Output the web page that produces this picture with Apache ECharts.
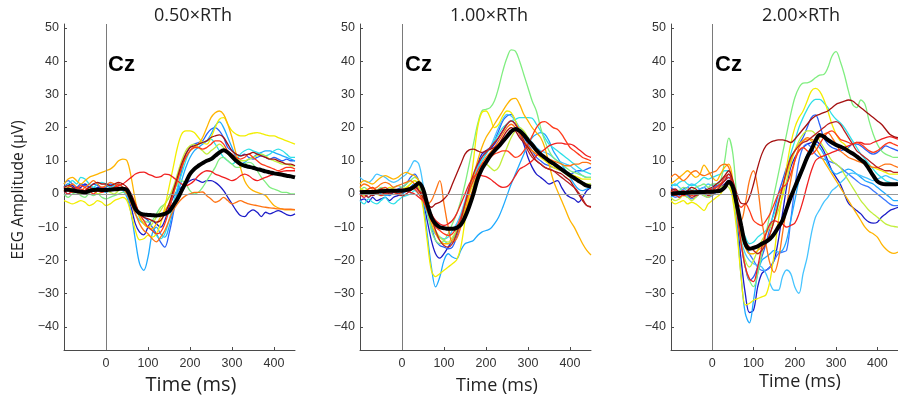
<!DOCTYPE html>
<html>
<head>
<meta charset="utf-8">
<script src="https://cdn.jsdelivr.net/npm/echarts@6/dist/echarts.min.js"></script>
<style>html,body{margin:0;padding:0;background:#fff;}#c{width:898px;height:397px;}</style>
</head>
<body>
<div id="c"></div>
<script>
// ---------- DATA ----------
const time = [-100,-90,-80,-70,-60,-50,-40,-30,-20,-10,0,10,20,30,40,50,60,70,80,90,100,110,120,130,140,150,160,170,180,190,200,210,220,230,240,250,260,270,280,290,300,310,320,330,340,350,360,370,380,390,400,410,420,430,440,450];
const xTicks = [0,100,200,300,400];
const yTicks = [-40,-30,-20,-10,0,10,20,30,40,50];
const panelTitles = ['0.50×RTh','1.00×RTh','2.00×RTh'];
const channel = 'Cz';
const xName = 'Time (ms)';
const yName = 'EEG Amplitude (µV)';

// Panel 1 (0.50×RTh)
const p1Mean = [1.2,1.3,1.1,0.8,0.7,0.5,0.9,1.2,1.3,1.2,1.2,1.3,1.4,1.5,1.6, 1.2,-1.5,-4.5,-5.8,-6.2,-6.3,-6.4,-6.5,-6.3,-6,-5.3,-3.5,-1.5,1,3.5, 6,7.5,8.5,9.3,10,10.5,11.5,12.5,13.2,12.5,11.3,10,9,8.5,8.2, 7.9,7.5,7.2,6.8,6.5,6.2,6,5.8,5.5,5.3,5.0];
const p1DarkBlue = [2,3,2.5,1.5,2,3,2,1,2,1.5,1,2,2.5,2,1.5, 0,-4,-9,-11.5,-12.3,-10,-8,-9,-10,-8,-4,-1,1,2,3, 4,4.5,4,3.5,4,4,3.5,2.5,1,-1,-3,-5,-6.5,-6.8,-5.5, -4.8,-5.5,-6.8,-5.5,-6,-5.5,-5,-5.5,-6.2,-6.5,-6];
const p1Blue = [3,4,3,2,3,2.5,2,3,2.5,2,2,3,2.5,1.5,2, 1,-2,-4,-6,-7,-8,-10,-12,-14.5,-16,-12,-6,1,7,12, 14,15,15.5,16,18,19.5,20,19,17,14,13,12,11.5,12,11, 10.5,11,11.5,11,10.5,11,10.5,10,10.5,10,10];
const p1Sky = [1,0,1,2,1,0.5,1,2,1.5,1,0.5,1,2,1.5,1, -1,-6,-14,-21,-23,-19,-12,-10,-12,-13,-10,-5,0,4,8, 11,13,14,15,16,18,20.5,21.7,20,17,14,11,9,9.5,10.5, 11,12,12.5,13,13,12.5,12,11.5,11,10.5,10];
const p1Cyan = [2,3,4,3,5,4.5,3,2,3,3.5,3,2,2.5,3,2, 0,-3,-6,-8,-9,-10,-11,-12.5,-13.5,-12,-8,-3,2,6,10, 13,14,15,15.5,16,16.5,15,13,11,10,9,10,12,13,13.5, 13,12.5,12,11.5,12,13,13.5,13,12,11,11];
const p1LightGreen = [0,-1,0,0.5,-0.5,-1,0,-0.5,0,-1,-1.5,-1,-0.5,0,0.5, 0,-2,-4,-6,-8,-8.5,-8,-6,-4,-3,-1,1,3,4,3, 1,0,0.5,2,4,6,8,10.5,11,10,9,8,8,9,9.5, 9,7,5,3.5,2,1.5,1,0.5,0.5,0,0];
const p1YellowGreen = [1,2,1.5,1,0,1,1.5,1,0,0.5,1,0.5,0,1,1.5, 1,-1,-4,-7,-9,-10,-9,-7,-5,-3,-1,2,6,10,13, 14.5,15,14,13,12,13,14,15,14,12,11,10.5,10,10,10.5, 11,11.5,12,11.5,10.5,10,9.5,9,9,8.5,8.5];
const p1Yellow = [-2,-2.5,-3,-2.5,-2,-2.5,-3.5,-3,-2,-2.5,-3.5,-3,-2,-1.5,-1, -2,-6,-11,-13.8,-13.5,-12.5,-13,-12,-9,-4,2,8,14,18,19, 19,18.5,17,15.5,15,17,20,22.5,23,21,19,18,17.5,17.5,18, 18.3,18.5,18.2,17.8,17.5,17.5,17,16.5,16,15.5,15];
const p1Amber = [3,4.5,5,4,3,4,5,5.5,6,6.5,7,7.5,8.5,10,10.5, 10,5,-2,-7,-9,-10,-10.5,-9,-7,-5,-3,0,4,8,11, 13,14,15,17,20,23,24.5,25,24,21,17,12,8,4,2, 1,0.5,0,-0.5,-2,-3.5,-4.2,-4.6,-4.8,-4.8,-4.8];
const p1Orange = [1,2,3,2,1,2,3,4,3,2,2.5,3.5,3,2,1.5, 0,-3,-6,-9,-11,-12,-13.5,-14.4,-13,-11,-8,-5,-3,-1.5,-0.5, 0,0.5,0.5,0.6,-0.5,-1.5,-2.5,-2,-1,-2,-3,-2.5,-2,-2.5,-3, -3.3,-3.5,-3.8,-4,-4.2,-4.3,-4.5,-4.5,-4.6,-4.6,-4.7];
const p1Red = [1,0,1,2,1.5,1,2,1.5,1,0.5,1,1.5,2,2.5,3, 4,5,6,6.5,6.6,6,5.5,5,5.2,6,5.8,5,4,3,2.5, 3,4,5.5,6.5,7,6.8,6,5.5,5,4.5,4,4.5,5.5,6,5.5, 4.5,4,4.5,5,5.5,6,6.5,6.8,7,7,7];
const p1Red2 = [2,1,0.5,1.5,2.5,2,1,0,1,2,1.5,1,2,3,2, 1,-1,-3,-6,-8,-10,-11,-12,-11.5,-9,-5,0,4,8,11, 13,14,14,13.5,14,15,16,16,15,13,12,11,10.5,11,12, 11,10,9,8.5,8,7.5,7,7.5,8,8,7.5];
const p1DarkRed = [2,2.5,2,1,0.5,1,2,3,3.5,3,3,2.5,3,3.5,3, 2,0,-3,-6,-7,-7.5,-8,-8.5,-8,-6,-3,1,5,9,12, 14,14.5,15,15.5,16,17,17.5,17.8,17,15,13,12,11.5,11.8,12, 12.5,12,11.5,11,10.5,10.5,10,9.5,9,9,8.5];

// Panel 2 (1.00×RTh)
const p2Mean = [0.5,0.6,0.6,0.6,0.7,0.8,0.9,1,1,1,1,1.2,1.5,2.3,3.3, 1.5,-3,-7,-9,-10,-10.3,-10.5,-10.5,-10.2,-9.3,-7,-3.8,0,4.5,7.5, 9.5,11.5,13,14.3,15.8,17.3,18.8,19.6,19,17.8,16.2,14.8,13.2,12,11, 10,9.2,8.3,7.4,6.5,5.6,4.8,4,3.2,2.5,2.2];
const p2DarkBlue = [-2,-1.5,-2.5,-1,-2,-1.5,-1,-2,-1,-0.5,0,1,2,3,2, -2,-8,-14,-18,-19.3,-18,-16,-14,-11,-7,-3,1,5,9,12, 13,13.5,15,17,19,21,22,21,18,15,11,8,6,5,4, 3,3.5,4,2,0,-1,-1.5,-2.5,-1,1,2];
const p2Blue = [0,1,0.5,-0.5,0.5,1,0,-0.5,0.5,1.5,2,3,5,6,4, 0,-5,-10,-14,-15.5,-16,-16.5,-16,-13,-9,-4,1,5,8,11, 13,14,16,19,22,23.5,24,22,19,17,15,13,11,10,9, 8.5,8,7.5,7,6.5,6,6.5,7,7,7.5,8];
const p2Sky = [1,0,-1,0,1,0,-0.5,0,1,0.5,0,1,2,3,2, -3,-12,-22,-28,-25,-20,-18,-19,-19.5,-17,-15,-14.5,-14,-12.5,-11.5, -11,-10.5,-9,-7,-4,-0.5,3,6,9,12,15,17,18,18.5,18, 16,13,11,9,7,5,3,1.5,1,1.5,2];
const p2LightSky = [5,4,3.5,4.5,6,5.5,5,4,3.5,4,5,6,8,10,9, 3,-4,-10,-12,-13,-13.5,-13,-11,-9,-6,-2,2,5,8,10, 12,14,17,20,22.5,24,23.5,22,20,18.5,17,15.5,14,13,12.5, 12,11,10,9.5,9,8.5,7.5,6.5,5.5,5,5];
const p2Cyan = [-2,-3,-1.5,-2.5,-3,-2,-1,-2.5,-3,-2,-1,-0.5,0,1,0, -2,-6,-10,-12,-13,-14,-15,-14,-11,-7,-3,1,4,7,10, 12,14,16,18,20,21,22,22.5,23,23,23,22.8,21,19,17, 15,14,13,12,11,10,9,8,7,6.5,6];
const p2LightGreen = [1,2,1,0.5,1,2,1.5,1,2,2.5,2,3,4,5,4, 0,-5,-11,-14,-15,-14,-12,-9,-6,-2,3,9,15,21,25, 25.5,26,28,32,37,41,43.4,43,40,36,32,28,25,20,16, 13,11,10,9,8,7,6.5,6,5.5,5,5];
const p2YellowGreen = [0,-0.5,0.5,1,0,-0.5,0,1,0.5,0,0.5,1.5,3,4,3, 0,-4,-8,-11,-13,-14,-14.5,-13,-11,-8,-4,0,3,6,8, 9,8,7,8,11,14,17,19,20,19,17,15,13,12,11, 10,9,8,7,6,5,4.5,4,3.5,3,3];
const p2Yellow = [2,1,1.5,2,1,0.5,1,2,1.5,1,1.5,2,3,4,2, -4,-14,-23,-24.9,-24,-23,-22,-21,-19.9,-16,-8,0,10,20,24.5, 25,23,20,21,23.5,25,24.5,22,19,16,14,13,12,11,10, 9,8,7.5,7,6.5,6,5.5,5,4.5,4.5,4.5];
const p2Amber = [3,4,3.5,3,4,5,5.5,5,4.5,5,6,6.5,6,5.5,4, 1,-4,-9,-12,-14,-15,-15,-14,-12,-9,-5,0,5,10,14, 17,19,21,23,25,27,28.5,28.8,27,24,22,20,18.5,17,14, 9,4.2,1,-2,-5,-8,-10,-12.5,-15,-17,-18.4];
const p2Orange = [2,3,2.5,1.5,2,3,3.5,3,2,2.5,3,3.5,4,3,1, -1,-3,-2,1,4,-3,-10,-14.5,-13.5,-10,-6,-2,2,6,9, 11,12.5,14,16,18,20,21,20,18,16,14.5,13,12,11.5,11, 10.5,10,9.5,9,8.5,8.5,9,9,9.5,9.5,9];
const p2Red = [0,-1,0,1,0.5,-0.5,0,1,0.5,0,0.5,1,0.5,0,-1, -2,-4,-6,-8,-9,-9.5,-9,-8,-6,-3,0,3,5,6,5.5, 5.2,4.5,3.5,2.5,2,2.2,3.5,5.5,7.5,8.2,9,10,11.5,12.5,13.5, 14.5,15,15.3,15.3,15,15,14.5,13.5,12.5,11.5,11];
const p2Red2 = [1,0.5,1.5,2,1,1.5,2,1,0.5,1,1.5,1,2,1.5,0, -2,-5,-8,-10,-11,-12,-12.5,-12,-10,-7,-3,1,4,7,9, 10,11,12,12.5,13,13,12,11,11.5,13,15,17.5,20,21.5,21.8, 21,20,19.5,18,16,14,13,12,11,10.5,10];
const p2DarkRed = [0.5,1,0,-0.5,0.5,1.5,1,0,0.5,1,1,1.5,2,2.5,1, -1,-3,-4,-3,-2.5,-1.5,0,3,6,9,12,13.3,13.5,13,12.5, 13,13.5,14,15,17,19,20,19,17,15.5,14,12,10,9,8, 7.5,7,6.5,6,5,4,2,0,-2,-3.5,-3.8];
const p2DarkRed2 = [1,0,-1,0,1,0.5,0,0.5,1,0,-0.5,0,1,2,1, 0,-3,-7,-11,-14,-15.5,-16,-15,-12,-8,-3,2,6,9,11, 12.5,14,15.5,17,19,21,22,21,19,16,13,11,10,9,8, 7.5,7,6,5,4,3,2,0.5,-1.5,-3.5,-4];

// Panel 3 (2.00×RTh)
const p3Mean = [0,0.2,0.3,0.3,0.4,0.5,0.5,0.6,0.6,0.7,0.7,0.8,1,2,3.7, 2,-3.5,-9.5,-15,-16.5,-16.2,-15.8,-15,-14.4,-13.5,-12,-10,-8,-4.5,-1, 2,5,8,11,13.3,16,17.8,17.3,16.3,15.5,14.8,14.3,13.7,12.9,12.2, 11.3,10.3,9.3,7.5,5.5,3.8,3.1,2.9,2.9,2.9,3];
const p3DarkBlue = [1,0,-1,0,1,0.5,-0.5,0,1,0.5,0,1,2,3,4, 0,-8,-20,-30,-35.7,-35,-28,-24,-23,-22,-20,-14,-6,2,8, 11,13,14,15,15.5,16,15,13,10,7,5,3,0,-2.8,-4, -5,-6,-7.5,-8.5,-8.8,-8.5,-7,-6,-5,-4.5,-4];
const p3Blue = [2,1,0.5,1.5,2,1,0.5,1.5,2,1,1.5,2.5,3,4,5, 2,-6,-15,-22,-26,-25,-22,-19,-15,-10,-5,0,4,8,11, 13,15,17,20,23,23.8,21,17,15,14,13.5,13,13.5,14,15, 15,14.5,13.5,12.5,12,12.5,13.5,14.5,14,13.5,13];
const p3Blue2 = [0,-1,-0.5,0.5,-0.5,-1.5,-1,0,-0.5,-1,-0.5,0.5,1,2,3, 1,-4,-10,-15,-18,-20,-22,-23,-23,-22,-20,-18,-17.5,-17,-8, 2,10,14,15,14,12,11,10.5,10,9.5,9,8,7,6,5, 4,3,2.5,2,1,0,-1,-2,-3,-3.5,-3.5];
const p3Sky = [-1,0,1,0,-1,0,1,0.5,-0.5,0,1,2,3,4,5, 0,-10,-25,-36,-38.8,-32,-24,-20,-19,-18,-17,-17.5,-17,-14,-8, -2,4,8,12,14,15,14,12,9,7,6,6.5,7,7.5,7, 6,5,4,3.5,3,2,1,0,-1,-2,-2];
const p3Sky2 = [2,3,2,1,2,3,2.5,1.5,2,3,2.5,3,4,5,6, 2,-6,-14,-18,-20,-21,-21.5,-22,-24,-27,-29,-29,-25,-22.9,-24, -28,-29.9,-24,-19,-12,-7,-4.8,-2.5,-1,1,2,3.3,4.5,6,6.3, 6,5.5,5,4.5,4,4.5,5,5.5,5,4.5,4];
const p3Cyan = [3,2.5,3.5,4,3,2.5,3,4,5,4.5,5,5.5,6,7,7, 3,-4,-10,-13,-15,-14.5,-13,-12,-11,-9,-6,-2,2,7,12, 16,20,23,25.5,27.5,28.5,28.5,27.5,26,24,22.5,21.5,20,18,16, 14,12,10.5,9,7.5,6,5,4,3.5,3,3];
const p3LightGreen = [1,0.5,1,2,1.5,1,2,2.5,3,2,3,3,4,10,16.8, 12,-2,-14,-22,-26,-27.9,-24,-18,-12,-6,0,6,12,18,24, 29,32,33.4,33.5,34,35,35.8,36,38,41.5,42.9,40,36,31,27, 26,28.3,27,22,18,15,13,12,11.5,11,11];
const p3YellowGreen = [-1,-2,-1.5,-0.5,-1,-2,-1,0,-0.5,-1,0,1,2,2.5,2, -1,-7,-15,-20,-22,-20,-17,-14,-12,-10,-8,-5,-1,4,9, 13,16,18,19,19,18,16,14,12,10,9,8,6,4,2, 0,-2,-3.5,-5,-6,-7,-8,-9,-9.5,-9.8,-10];
const p3Yellow = [-2,-3,-2.5,-2,-3,-2.5,-3,-4,-5,-3,-2,-1,0,2,3, -2,-12,-25,-33.4,-33,-32,-31.5,-31,-30.4,-26,-18,-8,0,8,15, 20,23,25,28,31,31.8,31,28.5,25,21,18,16,15,13.5,12, 11,10,9,8.5,8,7.5,7,6.5,6,6,6];
const p3Amber = [3,4,5,6,7,6,5,6,8.7,7,5,4,6,8,9, 4,-5,-12,-16,-18,-18,-17,-16,-15,-12,-8,-3,2,6,10, 13,15,16,16.5,16,14,12,10,8,6,4,2,0,-2,-4, -6,-8,-10,-11.3,-12,-13,-15,-16.5,-17.5,-17.9,-17.5];
const p3Orange = [5,6,5,4,5,6.5,7,6,5.5,6,6.5,7,8.5,9,8, 3,-5,-8,-3,4,7,2,-8,-15,-21,-23.6,-20,-12,-4,4, 10,14,16,17,16.5,16,17,18,18.5,17,15,13,12,11,10.5, 10,9.5,9,8.5,8,8,8.5,9,9,8.5,8];
const p3Red = [0,1,0.5,-0.5,0,1,0.5,0,0.5,1,1.5,2,3,4,5, 2,-6,-15,-22,-25.5,-26.4,-22,-16,-12,-9,-8,-8.5,-9,-10,-9.5, -8.8,-6,-2,2.7,7,10,11,11.5,12,12.5,13,13.5,14,14.5,15, 15.5,15.5,15,15,15.5,16,16.5,17,17.3,17,16.5];
const p3Red2 = [1,0,-1,0,0.5,-0.5,0,1,0.5,0,1,2,3,5,6, 3,-2,-4,-3,-5,-8,-9,-9.5,-8,-6,-3,0,2,3,6, 10,13,14,13,12,13,15,17,18.5,19,18,16.5,16,15.5,15, 15.5,15,14,13,12.5,13,14,15,15.5,15,14.5];
const p3DarkRed = [1,1.5,0.5,0,1,2,1.5,0.5,1,1.5,2,3,4,5.5,7, 4,0,-2.8,-3,-1,3,8,12,14.5,15.5,16,16.3,16.3,16,15.5, 16.5,18,19.5,21,22.5,23.5,24,24.5,25,26,27,27.5,28,28.3,28, 27,26,25,24,23,22,21,19.5,18,17.3,17];
const p3DarkRed2 = [0,-0.5,0.5,1,0,-1,-0.5,0,0.5,-0.5,0,1,2.5,4,6, 3,-3,-9,-14,-16,-17,-18,-17,-15,-12,-8,-3,2,7,11, 13,14.5,15.5,16,17,18,19,20,21,21.5,21.8,21,19,17,15, 13,12,11,10,9,8,7.5,7,7,6.5,6.5];

// ---------- STYLE ----------
const C = {
  darkBlue:'#1c1cc8', blue:'#2a62f8', sky:'#1eaaff', sky2:'#46c4ff', cyan:'#2ee0e8',
  lightGreen:'#80ee80', yellowGreen:'#c2ee3c', yellow:'#f2ee00', amber:'#ffb400',
  orange:'#ff7414', red:'#f02020', red2:'#ff3a1a', darkRed:'#a41010', darkRed2:'#bc2222'
};
const panels = [
  { mean:p1Mean, traces:[[p1DarkBlue,C.darkBlue],[p1Blue,C.blue],[p1Sky,C.sky],[p1Cyan,C.cyan],[p1LightGreen,C.lightGreen],[p1YellowGreen,C.yellowGreen],[p1Yellow,C.yellow],[p1Amber,C.amber],[p1Orange,C.orange],[p1Red,C.red],[p1Red2,C.red2],[p1DarkRed,C.darkRed]] },
  { mean:p2Mean, traces:[[p2DarkBlue,C.darkBlue],[p2Blue,C.blue],[p2Sky,C.sky],[p2LightSky,C.sky2],[p2Cyan,C.cyan],[p2LightGreen,C.lightGreen],[p2YellowGreen,C.yellowGreen],[p2Yellow,C.yellow],[p2Amber,C.amber],[p2Orange,C.orange],[p2Red,C.red],[p2Red2,C.red2],[p2DarkRed,C.darkRed],[p2DarkRed2,C.darkRed2]] },
  { mean:p3Mean, traces:[[p3DarkBlue,C.darkBlue],[p3Blue,C.blue],[p3Blue2,'#3a78ff'],[p3Sky,C.sky],[p3Sky2,C.sky2],[p3Cyan,C.cyan],[p3LightGreen,C.lightGreen],[p3YellowGreen,C.yellowGreen],[p3Yellow,C.yellow],[p3Amber,C.amber],[p3Orange,C.orange],[p3Red,C.red],[p3Red2,C.red2],[p3DarkRed,C.darkRed],[p3DarkRed2,C.darkRed2]] }
];
const gridLefts = [64, 360, 671];
const titleX = [193, 489, 801];
const xNamePos = [[191,385,20],[497,386,18],[800,382,18]];
const cz = [108, 405, 715];

const FONT = '"Liberation Sans", Arial, sans-serif';
const FONT2 = '"Open Sans", "Liberation Sans", sans-serif';
const minus = v => String(v).replace('-', '\u2212');

const grids = [], xAxes = [], yAxes = [], series = [], graphics = [];
panels.forEach((p, i) => {
  grids.push({ left: gridLefts[i], top: 24, width: 231, height: 326 });
  xAxes.push({
    type:'value', gridIndex:i, min:-100, max:450,
    axisLine:{ show:true, onZero:false, lineStyle:{ color:'#4a4a4a', width:1 } },
    axisTick:{ show:true, inside:true, length:3, customValues:xTicks, lineStyle:{ color:'#4a4a4a' } },
    axisLabel:{ customValues:xTicks, fontSize:12.5, color:'#333', fontFamily:FONT, margin:7, formatter:minus },
    splitLine:{ show:false }
  });
  yAxes.push({
    type:'value', gridIndex:i, min:-47, max:51.2,
    axisLine:{ show:true, onZero:false, lineStyle:{ color:'#4a4a4a', width:1 } },
    axisTick:{ show:true, inside:true, length:3, customValues:yTicks, lineStyle:{ color:'#4a4a4a' } },
    axisLabel:{ customValues:yTicks, fontSize:12.5, color:'#333', fontFamily:FONT, margin:5, formatter:minus },
    splitLine:{ show:false }
  });
  p.traces.forEach(([vals, col], k) => {
    const s = {
      type:'line', xAxisIndex:i, yAxisIndex:i, showSymbol:false, smooth:0.35,
      data: time.map((t, j) => [t, vals[j]]),
      lineStyle:{ color:col, width:1.3 }, silent:true, z:3
    };
    if (k === 0) {
      s.markLine = {
        silent:true, symbol:'none', label:{ show:false },
        lineStyle:{ color:'#7a7a7a', width:1, type:'solid' },
        data:[{ xAxis:0 }, { yAxis:0, lineStyle:{ color:'#999', width:1.2 } }]
      };
    }
    series.push(s);
  });
  series.push({
    type:'line', xAxisIndex:i, yAxisIndex:i, showSymbol:false, smooth:0.35,
    data: time.map((t, j) => [t, p.mean[j]]),
    lineStyle:{ color:'#000', width:4 }, silent:true, z:5
  });
  graphics.push({ type:'text', x:titleX[i], y:16, style:{ text:panelTitles[i], align:'center', verticalAlign:'middle', font:'18px ' + FONT2, fill:'#222' } });
  graphics.push({ type:'text', x:cz[i], y:65, style:{ text:channel, align:'left', verticalAlign:'middle', font:'bold 22px ' + FONT, fill:'#000' } });
  graphics.push({ type:'text', x:xNamePos[i][0], y:xNamePos[i][1], style:{ text:xName, align:'center', verticalAlign:'middle', font:xNamePos[i][2] + 'px ' + FONT2, fill:'#222' } });
});
graphics.push({ type:'text', x:19, y:190, rotation:Math.PI/2, style:{ text:yName, align:'center', verticalAlign:'middle', font:'15.5px ' + FONT2, fill:'#222' } });

const chart = echarts.init(document.getElementById('c'), null, { renderer:'canvas' });
chart.setOption({
  animation:false, backgroundColor:'#fff',
  grid:grids, xAxis:xAxes, yAxis:yAxes, series:series, graphic:graphics
});
</script>
</body>
</html>
